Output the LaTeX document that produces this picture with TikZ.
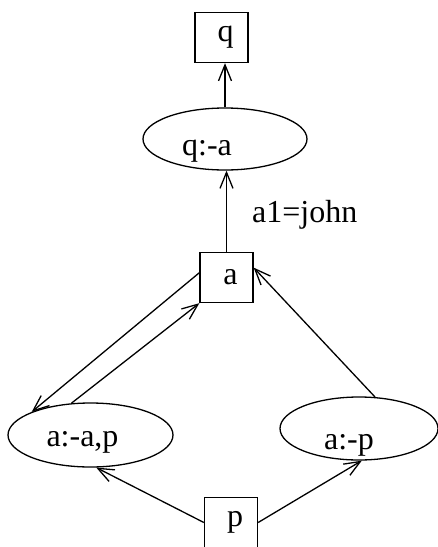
\documentclass[tikz,border=0pt]{standalone}
\usepackage{fontspec}
\setmainfont{Liberation Serif}
\usetikzlibrary{arrows.meta, shapes.geometric}

\begin{document}
\begin{tikzpicture}[x=1pt, y=-1pt, >={Straight Barb[length=16pt, width=13pt]},
    line width=1.3pt, font=\fontsize{32}{38}\selectfont,
    goal/.style={draw, rectangle, minimum width=53pt, minimum height=50pt, inner sep=0pt},
    clause/.style={draw, ellipse, inner sep=0pt}]
  \useasboundingbox (0,0) rectangle (438,547);
  % predicate boxes
  \node[goal] (q) at (221.5,37.5) {\hspace*{8pt}q};
  \node[goal] (a) at (226.5,277.5) {\hspace*{8pt}a};
  \node[goal] (p) at (231,522.5) {\hspace*{8pt}p};
  % clause ellipses (text sits left of and below the centre)
  \node[clause, minimum width=164pt, minimum height=62pt,
    label={[xshift=-18pt, yshift=-12pt]center:{q:-a}}] (qa) at (225,139) {};
  \node[clause, minimum width=165pt, minimum height=64pt,
    label={[xshift=-8pt, yshift=-7pt]center:{a:-a,p}}] (apa) at (90.5,435) {};
  \node[clause, minimum width=158pt, minimum height=63pt,
    label={[xshift=-10pt, yshift=-17pt]center:{a:-p}}] (ap) at (359,428.5) {};
  % arcs
  \draw[->] (qa.north) -- (qa.north |- q.south);
  \draw[->] (a.north) -- (a.north |- qa.south)
    node[midway, right, inner sep=0pt, xshift=25pt, yshift=-4pt] {a1=john};
  \draw[->] (a.170) -- (apa.north west);
  \draw[->] (apa.121) -- (a.south west);
  \draw[->] (ap.63) -- (a.20);
  \draw[->] (p.west) -- (apa.-80);
  \draw[->] (p.east) -- (ap.-85);
\end{tikzpicture}
\end{document}
